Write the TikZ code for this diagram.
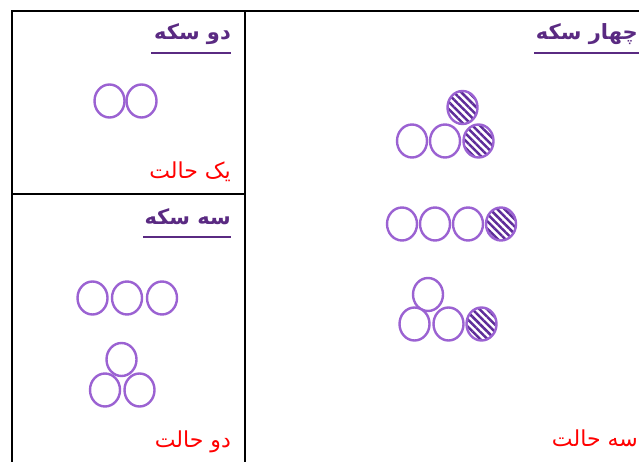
\documentclass[tikz,border=0pt]{standalone}
\usepackage{fontspec}
\newfontfamily\arabicfont[Script=Arabic]{DejaVu Sans}
\TeXXeTstate=1
\usetikzlibrary{shapes.geometric,patterns.meta}
\definecolor{coin}{HTML}{9B62D2}
\definecolor{titlec}{HTML}{5A2A82}
\definecolor{hatch}{HTML}{5E2C99}
\tikzset{
  x=1pt,y=1pt,
  coinnode/.style={ellipse,draw=coin,line width=2.4pt,minimum width=30pt,minimum height=33pt,inner sep=0pt,fill=white},
  hatched/.style={coinnode,pattern={Lines[angle=-45,distance=5.2pt,line width=2.5pt]},pattern color=hatch},
  titletext/.style={anchor=east,text=titlec,font=\arabicfont\bfseries\fontsize{21}{24}\selectfont,inner sep=0pt},
  redtext/.style={anchor=east,text=red,font=\arabicfont\fontsize{22}{25}\selectfont,inner sep=0pt},
  uline/.style={draw=titlec,line width=2.2pt},
  frame/.style={draw=black,line width=2.3pt}
}
\begin{document}
\begin{tikzpicture}
\useasboundingbox (0,0) rectangle (639,462);
% frame
\coordinate (tl) at (12,451);
\coordinate (tr) at (660,451);
\coordinate (bl) at (12,-5);
\coordinate (mt) at (245,451);
\coordinate (mb) at (245,-5);
\coordinate (hl) at (12,268);
\coordinate (hr) at (245,268);
\draw[frame] (tr) -- (tl) -- (bl);
\draw[frame] (mt) -- (mb);
\draw[frame] (hl) -- (hr);
% titles
\node[titletext] (t2) at (231,428) {\beginR دو سکه\endR};
\coordinate (u2a) at (151,409); \coordinate (u2b) at (231,409);
\draw[uline] (u2a) -- (u2b);
\node[titletext] (t3) at (231,245) {\beginR سه سکه\endR};
\coordinate (u3a) at (143,225); \coordinate (u3b) at (231,225);
\draw[uline] (u3a) -- (u3b);
\node[titletext] (t4) at (638,428) {\beginR چهار سکه\endR};
\coordinate (u4a) at (534,409); \coordinate (u4b) at (645,409);
\draw[uline] (u4a) -- (u4b);
% result texts
\node[redtext] (r2) at (231,290) {\beginR یک حالت\endR};
\node[redtext] (r3) at (231,20) {\beginR دو حالت\endR};
\node[redtext] (r4) at (638,24) {\beginR سه حالت\endR};
% two coins
\node[coinnode] (a1) at (109.5,361) {};
\node[coinnode] (a2) at (141.5,361) {};
% three coins row
\node[coinnode] (b1) at (92.5,164) {};
\node[coinnode] (b2) at (127,164) {};
\node[coinnode] (b3) at (162,164) {};
% three coins triangle
\node[coinnode] (c1) at (121.5,102.5) {};
\node[coinnode] (c2) at (105,72) {};
\node[coinnode] (c3) at (139.5,72) {};
% four coins group 1
\node[coinnode] (d2) at (412,321) {};
\node[coinnode] (d3) at (445,321) {};
\node[hatched] (d1) at (462.5,354.5) {};
\node[hatched] (d4) at (478.5,321) {};
% group 2
\node[coinnode] (e1) at (402,238) {};
\node[coinnode] (e2) at (435,238) {};
\node[coinnode] (e3) at (468,238) {};
\node[hatched] (e4) at (501,238) {};
% group 3
\node[coinnode] (f1) at (428,167.5) {};
\node[coinnode] (f2) at (414.5,138) {};
\node[coinnode] (f3) at (448.5,138) {};
\node[hatched] (f4) at (481.5,138) {};
\end{tikzpicture}
\end{document}
